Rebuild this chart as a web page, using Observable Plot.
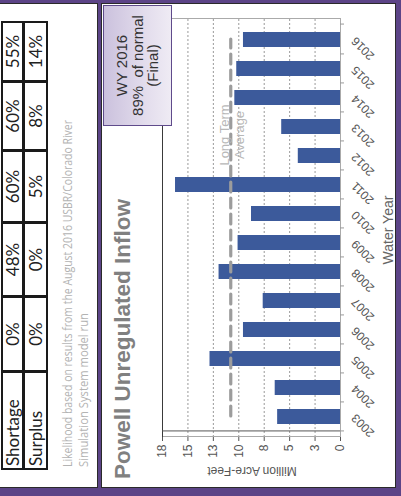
<!DOCTYPE html>
<html><head><meta charset="utf-8">
<script src="https://cdn.jsdelivr.net/npm/d3@7"></script>
<script src="https://cdn.jsdelivr.net/npm/@observablehq/plot@0.6"></script>
<style>
html,body{margin:0;padding:0;width:401px;height:496px;overflow:hidden;background:#5c4487;}
#rot{position:absolute;left:0;top:0;width:496px;height:401px;transform-origin:0 0;transform:translate(0px,496px) rotate(-90deg);background:#5c4487;font-family:"Liberation Sans",Arial,sans-serif;}
.panel{position:absolute;background:#fff;border:1px solid #2a2a2a;box-sizing:border-box;}
#chart{position:absolute;left:0;top:0;}
#title{position:absolute;left:17px;top:112px;font-size:22.5px;line-height:1;font-weight:bold;color:#808080;white-space:nowrap;}
#ylab{position:absolute;left:25px;top:252px;transform:translate(-50%,-50%) rotate(-90deg);font-size:12px;line-height:1;color:#555;white-space:nowrap;}
#xlab{position:absolute;left:266px;top:381px;transform:translateX(-50%);font-size:14px;line-height:1;color:#666;white-space:nowrap;}
#box{position:absolute;left:370px;top:103px;width:121px;height:69px;box-sizing:border-box;border:1.5px solid #5f4b8b;background:linear-gradient(180deg,#cbc1dd 0%,#e2dcec 60%,#efebf4 100%);display:flex;flex-direction:column;justify-content:center;align-items:center;text-align:center;font-size:15px;line-height:15.5px;color:#333;white-space:pre;}
#tbl{position:absolute;left:26px;top:1px;}
.cell{position:absolute;box-sizing:border-box;border:1px solid #1a1a1a;font-family:Lato,"Open Sans",sans-serif;font-size:17px;line-height:1;color:#222;display:flex;align-items:center;white-space:nowrap;}
.cell.v{justify-content:center;}
.cell.l{padding-left:2px;}
#note{position:absolute;left:0;top:0;}
</style></head>
<body>
<div id="rot">
  <div class="panel" style="left:8px;top:-6px;width:485px;height:104px;"></div>
  <div class="panel" style="left:8px;top:101px;width:485px;height:295px;"></div>
  <div id="tbl"></div>
  <svg id="note" width="496" height="100"></svg>
  <div id="chart"></div>
  <div id="title"></div>
  <div id="ylab"></div>
  <div id="xlab"></div>
  <div id="box"></div>
</div>
<script>
// ---- data ----
const years = ["2003","2004","2005","2006","2007","2008","2009","2010","2011","2012","2013","2014","2015","2016"];
const inflow = [6.18, 6.42, 12.83, 9.54, 7.60, 11.94, 10.07, 8.75, 16.22, 4.15, 5.78, 10.39, 10.20, 9.54];
const longTermAvg = 10.79;
const yTicks = [0, 2.5, 5, 7.5, 10, 12.5, 15, 17.5];
const tableRowLabels = ["Shortage", "Surplus"];
const shortageLikelihood = ["0%", "48%", "60%", "60%", "55%"];
const surplusLikelihood = ["0%", "0%", "5%", "8%", "14%"];
const titleText = "Powell Unregulated Inflow";
const yLabel = "Million Acre-Feet";
const xLabel = "Water Year";
const avgLabel = ["Long Term", "Average"];
const avgLabelYear = "2013";
const boxLines = ["WY 2016", "89%  of normal", "(Final)"];
const noteLines = ["Likelihood based on results from the August 2016 USBR/Colorado River", "Simulation System model run"];

// ---- table (layout) ----
const tbl = document.getElementById("tbl");
const colEdges = [0, 98, 173, 247, 319, 388, 448];
const rowEdges = [0, 22, 46];
[shortageLikelihood, surplusLikelihood].forEach((vals, r) => {
  const cells = [tableRowLabels[r], ...vals];
  cells.forEach((txt, c) => {
    const d = document.createElement("div");
    d.className = "cell " + (c === 0 ? "l" : "v");
    d.style.left = colEdges[c] + "px";
    d.style.top = rowEdges[r] + "px";
    d.style.width = (colEdges[c + 1] - colEdges[c] + 1) + "px";
    d.style.height = (rowEdges[r + 1] - rowEdges[r] + 1) + "px";
    d.style.borderWidth = "2px";
    d.textContent = txt;
    tbl.appendChild(d);
  });
});

// ---- note ----
const note = d3.select("#note");
noteLines.forEach((t, i) => {
  const el = note.append("text").attr("x", 29).attr("y", 72 + i * 16)
    .attr("font-family", "'Open Sans', sans-serif").attr("font-size", 12).attr("fill", "#b3b3b3").text(t);
  el.attr("textLength", i === 0 ? 347 : 154).attr("lengthAdjust", "spacingAndGlyphs");
});

// ---- texts ----
document.getElementById("title").textContent = titleText;
document.getElementById("ylab").textContent = yLabel;
document.getElementById("xlab").textContent = xLabel;
document.getElementById("box").textContent = boxLines.join("\n");

// ---- chart ----
const data = years.map((y, i) => ({year: y, value: inflow[i]}));
const W = 496, H = 401, mL = 59, mR = 19, mT = 162, mB = 61;
const step = (W - mL - mR) / years.length;
const chart = Plot.plot({
  width: W, height: H,
  marginLeft: mL, marginRight: mR, marginTop: mT, marginBottom: mB,
  style: {background: "transparent", fontFamily: "'Liberation Sans', Arial, sans-serif", fontSize: "12px", overflow: "visible"},
  x: {type: "band", domain: years, paddingInner: 0.5, paddingOuter: 0.25, label: null},
  y: {domain: [0, 17.5], label: null},
  marks: [
    Plot.ruleY(yTicks.filter(t => t > 0 && t < 17.5), {stroke: "#9a9a9a", strokeDasharray: "2,2"}),
    Plot.frame({stroke: "#aaaaaa"}),
    Plot.ruleY([17.5], {stroke: "#3a3a3a"}),
    Plot.ruleX([years[0]], {x: d => d, y1: 0, y2: 17.5, dx: -step / 2, stroke: "#555"}),
    Plot.barY(data, {x: "year", y: "value", fill: "#3c5a9b"}),
    Plot.ruleX(years, {x: d => d, y1: 0, y2: 0, dx: -step / 2, insetBottom: -4, stroke: "#999"}),
    Plot.ruleX([years[years.length - 1]], {x: d => d, y1: 0, y2: 0, dx: step / 2, insetBottom: -4, stroke: "#999"}),
    Plot.lineY([{year: years[0], v: longTermAvg}, {year: years[years.length - 1], v: longTermAvg}],
      {x: "year", y: "v", stroke: "#9c9c9c", strokeWidth: 3.2, strokeDasharray: "10,6"}),
    Plot.text([longTermAvg], {x: () => avgLabelYear, y: d => d, text: () => avgLabel[0], dx: -9, dy: -2, lineAnchor: "bottom", fill: "#b8b8b8", fontSize: 13}),
    Plot.text([longTermAvg], {x: () => avgLabelYear, y: d => d, text: () => avgLabel[1], dx: -9, dy: 4, lineAnchor: "top", fill: "#b8b8b8", fontSize: 13}),
    Plot.axisY({ticks: yTicks, tickFormat: d => Math.round(d), tickSize: 4, tickPadding: 4, stroke: "#555", fill: "#555", fontSize: 12, label: null}),
    Plot.axisX({tickSize: 0, tickRotate: -45, tickPadding: 13, fill: "#555", fontSize: 12, label: null})
  ]
});
document.getElementById("chart").appendChild(chart);
</script>
</body></html>
